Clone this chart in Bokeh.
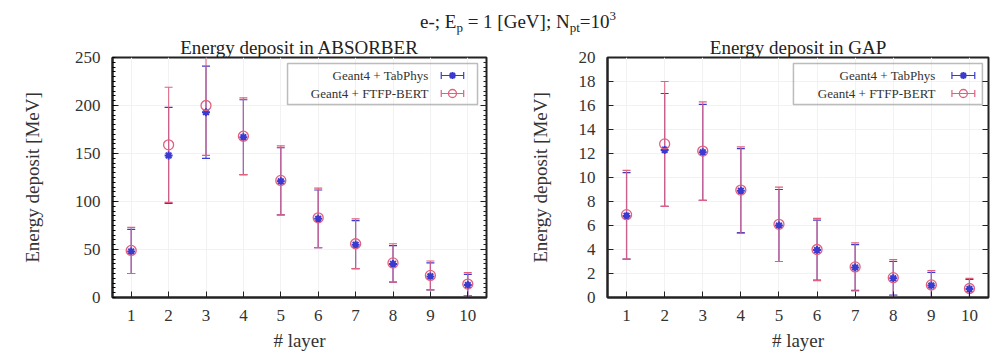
from bokeh.plotting import figure
from bokeh.models import (Div, Whisker, TeeHead, LinearAxis, FixedTicker, SingleIntervalTicker,
                          BoxAnnotation, Label, ColumnDataSource, Range1d, Title,
                          CustomJSTickFormatter)
from bokeh.layouts import column, row
from bokeh.embed import file_html
from bokeh.resources import INLINE

# ---------------- data ----------------
layers = [1, 2, 3, 4, 5, 6, 7, 8, 9, 10]
x_ticks = [1, 2, 3, 4, 5, 6, 7, 8, 9, 10]

abs_tab = [48, 148, 193, 167, 121, 82, 55, 35, 22, 13]
abs_tab_err = [23, 50, 48, 39, 35, 30, 25, 19, 14, 11]
abs_ftfp = [49, 159, 200, 168, 122, 83, 56, 36, 23, 14]
abs_ftfp_err = [24, 60, 52, 40, 36, 31, 26, 20, 15, 12]

gap_tab = [6.8, 12.3, 12.1, 8.9, 6.0, 3.95, 2.5, 1.6, 1.0, 0.7]
gap_tab_err = [3.6, 4.7, 4.0, 3.5, 3.0, 2.5, 1.9, 1.4, 1.1, 0.8]
gap_ftfp = [6.9, 12.8, 12.2, 8.95, 6.1, 4.0, 2.55, 1.65, 1.05, 0.75]
gap_ftfp_err = [3.7, 5.2, 4.1, 3.6, 3.1, 2.6, 2.0, 1.5, 1.2, 0.85]

series_labels = ["Geant4 + TabPhys", "Geant4 + FTFP-BERT"]

FONT = "Liberation Serif"
BLUE = "#3a3ad0"
RED = "#e0607e"


def make_panel(title, ymax, yinterval, nminor, tab, tab_err, ftfp, ftfp_err,
               width, bl, br, ylab_standoff, leg_x0, leg_x1, txt_fx, smp_fx):
    xr = Range1d(0.5, 10.5)
    yr = Range1d(0, ymax)
    p = figure(width=width, height=323, x_range=xr, y_range=yr,
               output_backend="svg", toolbar_location=None,
               min_border_left=bl, min_border_right=br,
               min_border_top=23, min_border_bottom=60)
    p.title = Title(text=title, align="center", text_font=FONT,
                    text_font_size="19px", text_font_style="normal",
                    text_color="#222222", standoff=0)
    p.background_fill_color = "white"
    p.border_fill_color = "white"
    p.outline_line_color = "#222222"
    p.outline_line_width = 2
    p.grid.grid_line_color = "#f2f2f2"

    yt = SingleIntervalTicker(interval=yinterval, num_minor_ticks=max(nminor, 1))
    p.yaxis.ticker = yt
    p.xaxis.ticker = FixedTicker(ticks=x_ticks)
    p.ygrid.ticker = yt
    p.xgrid.ticker = FixedTicker(ticks=x_ticks)

    for ax in (p.xaxis[0], p.yaxis[0]):
        ax.axis_line_color = "#222222"
        ax.axis_line_width = 2
        ax.major_tick_in = 6
        ax.major_tick_out = 0
        ax.minor_tick_in = 3
        ax.minor_tick_out = 0
        ax.major_tick_line_color = "#222222"
        ax.major_label_text_font = FONT
        ax.major_label_text_font_size = "17px"
        ax.major_label_text_color = "#333333"
        ax.axis_label_text_font = FONT
        ax.axis_label_text_font_size = "19px"
        ax.axis_label_text_font_style = "normal"
        ax.axis_label_text_color = "#333333"
    p.xaxis.minor_tick_line_color = None
    if nminor == 0:
        p.yaxis.minor_tick_line_color = None
    p.xaxis.major_label_standoff = 12
    p.xaxis.axis_label_standoff = 6
    p.xaxis.axis_label = "# layer"
    p.yaxis.major_label_standoff = 12
    p.yaxis.axis_label_standoff = ylab_standoff
    p.yaxis.axis_label = "Energy deposit [MeV]"

    # mirrored ticks on the right side of the frame (no labels)
    rax = LinearAxis(ticker=yt, formatter=CustomJSTickFormatter(code="return ''"),
                     major_label_text_color=None, major_label_standoff=0,
                     major_tick_in=6, major_tick_out=0, minor_tick_in=3, minor_tick_out=0,
                     axis_line_color=None, major_tick_line_color="#222222",
                     minor_tick_line_color=("#222222" if nminor else None))
    p.add_layout(rax, "right")

    # data series
    for vals, errs, color, kind in ((tab, tab_err, BLUE, "tab"), (ftfp, ftfp_err, RED, "ftfp")):
        src = ColumnDataSource(dict(x=layers, y=vals,
                                    lo=[v - e for v, e in zip(vals, errs)],
                                    hi=[v + e for v, e in zip(vals, errs)]))
        w = Whisker(source=src, base="x", lower="lo", upper="hi", dimension="height",
                    line_color=color, line_width=1.2, line_alpha=0.85,
                    upper_head=TeeHead(size=8, line_color=color, line_width=1.2),
                    lower_head=TeeHead(size=8, line_color=color, line_width=1.2))
        p.add_layout(w)
        if kind == "tab":
            p.scatter("x", "y", source=src, marker="asterisk", size=8,
                      line_color=BLUE, line_width=2)
        else:
            p.scatter("x", "y", source=src, marker="circle", size=10,
                      fill_color=None, line_color=RED, line_width=1.3)

    # legend (box at top right, label left of the sample)
    def fx(f):
        return 0.5 + f * 10.0

    def fy(f):
        return ymax * (1 - f)

    box = BoxAnnotation(left=fx(leg_x0), right=fx(leg_x1), top=fy(0.025), bottom=fy(0.196),
                        fill_alpha=0, line_color="#222222", line_width=1.5)
    p.add_layout(box)
    for i, (lab, color) in enumerate(zip(series_labels, (BLUE, RED))):
        yy = fy(0.075 + i * 0.075)
        p.add_layout(Label(x=fx(txt_fx), y=yy, text=lab, text_align="right",
                           text_baseline="middle", text_font=FONT,
                           text_font_size="13px", text_color="#333333"))
        s = ColumnDataSource(dict(y=[yy], lo=[fx(smp_fx - 0.03)], hi=[fx(smp_fx + 0.03)],
                                  x=[fx(smp_fx)]))
        p.add_layout(Whisker(source=s, base="y", lower="lo", upper="hi", dimension="width",
                             line_color=color, line_width=1.2,
                             upper_head=TeeHead(size=7, line_color=color, line_width=1.2),
                             lower_head=TeeHead(size=7, line_color=color, line_width=1.2)))
        if i == 0:
            p.scatter("x", "y", source=s, marker="asterisk", size=7, line_color=BLUE, line_width=2)
        else:
            p.scatter("x", "y", source=s, marker="circle", size=8, fill_color=None,
                      line_color=RED, line_width=1.3)
    return p


p1 = make_panel("Energy deposit in ABSORBER", 250, 50, 10, abs_tab, abs_tab_err, abs_ftfp,
                abs_ftfp_err, 500, 112, 14, 29, 0.468, 0.976, 0.845, 0.909)
p2 = make_panel("Energy deposit in GAP", 20, 2, 0, gap_tab, gap_tab_err, gap_ftfp,
                gap_ftfp_err, 501, 107, 13, 25, 0.488, 0.984, 0.861, 0.934)

sup = Div(text=('<div style="width:1001px; box-sizing:border-box; padding-left:35px; '
                'padding-top:12px; text-align:center; font-family:\'Liberation Serif\'; '
                'font-size:19px; line-height:20px; color:#222; white-space:nowrap;">'
                'e-; E<span style="font-size:13px; position:relative; top:4px">p</span> = 1 [GeV]; '
                'N<span style="font-size:13px; position:relative; top:4px">pt</span>=10'
                '<span style="font-size:13px; position:relative; top:-8px">3</span></div>'),
          width=1001, height=34, margin=(0, 0, 0, 0))

layout = column(sup, row(p1, p2, spacing=0), spacing=0)
open("out.html", "w").write(file_html(layout, INLINE))
